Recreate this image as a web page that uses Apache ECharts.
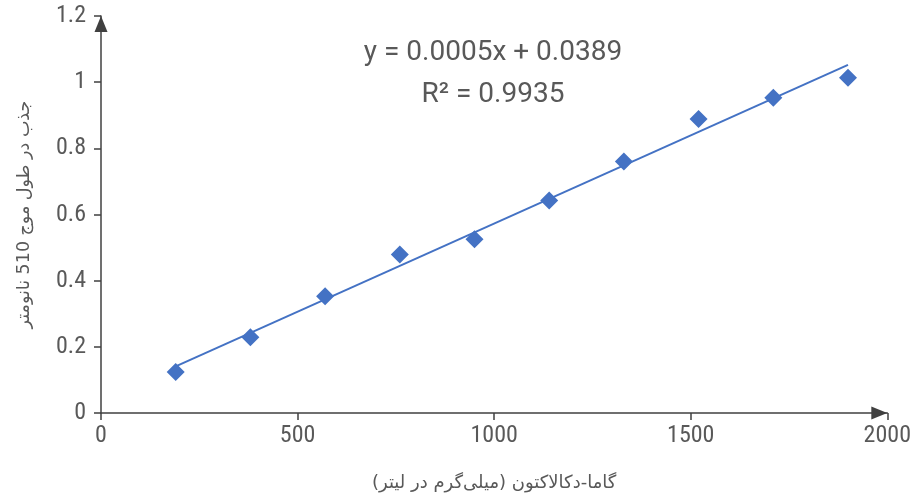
<!DOCTYPE html>
<html>
<head>
<meta charset="utf-8">
<script src="https://cdn.jsdelivr.net/npm/echarts@6/dist/echarts.min.js"></script>
<style>
  html, body { margin: 0; padding: 0; background: #fff; }
  #chart { width: 914px; height: 497px; }
</style>
</head>
<body>
<div id="chart"></div>
<script>
// غلظت (میلی‌گرم در لیتر) و جذب
var concentration = [190, 380, 570, 760, 950, 1140, 1330, 1520, 1710, 1900];
var absorbance = [0.124, 0.229, 0.353, 0.479, 0.525, 0.642, 0.760, 0.889, 0.953, 1.013];
var equationText = ['y = 0.0005x + 0.0389', 'R² = 0.9935'];
var xName = 'گاما-دکالاکتون (میلی‌گرم در لیتر)';
var yName = 'جذب در طول موج 510 نانومتر';

// خط روند (حداقل مربعات)
function fitLine(xs, ys) {
    var n = xs.length, sx = 0, sy = 0, sxx = 0, sxy = 0;
    for (var i = 0; i < n; i++) {
        sx += xs[i]; sy += ys[i];
        sxx += xs[i] * xs[i]; sxy += xs[i] * ys[i];
    }
    var b = (n * sxy - sx * sy) / (n * sxx - sx * sx);
    var a = (sy - b * sx) / n;
    return {a: a, b: b};
}
var fit = fitLine(concentration, absorbance);
var xFirst = concentration[0], xLast = concentration[concentration.length - 1];
var trend = [[xFirst, fit.a + fit.b * xFirst], [xLast, fit.a + fit.b * xLast]];

var points = concentration.map(function (x, i) { return [x, absorbance[i]]; });

var axisColor = '#404040';
var labelFont = "'Liberation Sans Narrow', 'Roboto Condensed', Roboto, sans-serif";
var persianFont = "'DejaVu Sans', sans-serif";

var chart = echarts.init(document.getElementById('chart'));

var option = {
    backgroundColor: '#fff',
    animation: false,
    grid: {left: 101, right: 23, top: 16, bottom: 83, containLabel: false},
    xAxis: {
        type: 'value',
        min: 0,
        max: 2000,
        interval: 500,
        name: xName,
        nameLocation: 'middle',
        nameGap: 61,
        nameTextStyle: {fontFamily: persianFont, fontSize: 18, color: '#595959'},
        axisLine: {
            show: true,
            lineStyle: {color: axisColor, width: 1.5},
            symbol: ['none', 'triangle'],
            symbolSize: [13, 16],
            symbolOffset: [0, -8]
        },
        axisTick: {show: true, length: 7, lineStyle: {color: axisColor, width: 1.5}},
        axisLabel: {
            fontFamily: labelFont, fontSize: 24, color: '#595959', margin: 11,
            formatter: function (v) { return String(v); }
        },
        splitLine: {show: false}
    },
    yAxis: {
        type: 'value',
        min: 0,
        max: 1.2,
        interval: 0.2,
        name: yName,
        nameLocation: 'middle',
        nameGap: 68,
        nameTextStyle: {fontFamily: persianFont, fontSize: 17.5, color: '#595959'},
        axisLine: {
            show: true,
            lineStyle: {color: axisColor, width: 1.5},
            symbol: ['none', 'triangle'],
            symbolSize: [13, 16],
            symbolOffset: [0, -8]
        },
        axisTick: {show: true, length: 7, lineStyle: {color: axisColor, width: 1.5}},
        axisLabel: {
            fontFamily: labelFont, fontSize: 24, color: '#595959', margin: 15,
            formatter: function (v) { return String(Math.round(v * 10) / 10); }
        },
        splitLine: {show: false}
    },
    graphic: [
        {
            type: 'text',
            x: 493,
            y: 32,
            style: {
                text: equationText.join('\n'),
                align: 'center',
                verticalAlign: 'top',
                lineHeight: 42,
                font: "28px Roboto, sans-serif",
                fill: '#595959'
            }
        }
    ],
    series: [
        {
            name: 'روند',
            type: 'line',
            data: trend,
            showSymbol: false,
            symbol: 'none',
            lineStyle: {color: '#4472C4', width: 2},
            z: 2
        },
        {
            name: 'جذب',
            type: 'scatter',
            data: points,
            symbol: 'diamond',
            symbolSize: [18, 18],
            itemStyle: {color: '#4472C4', opacity: 1},
            z: 3
        }
    ]
};

chart.setOption(option);
</script>
</body>
</html>
